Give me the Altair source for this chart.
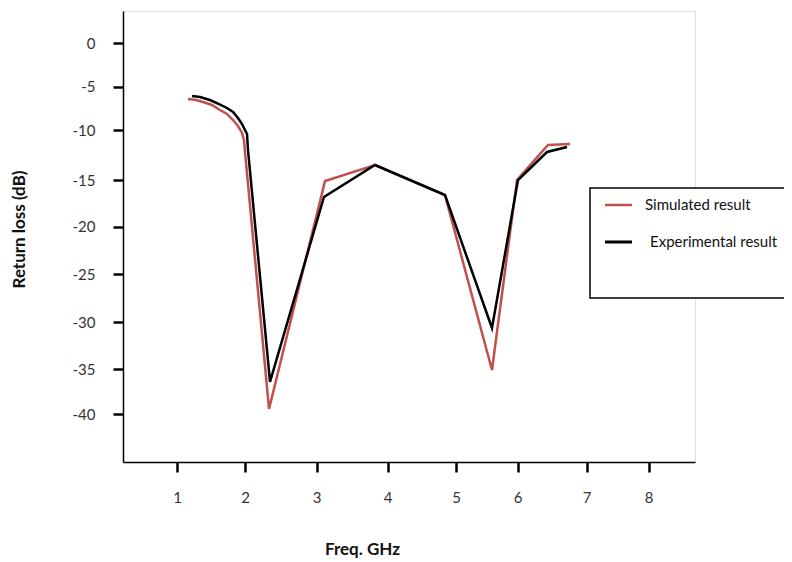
import altair as alt
import pandas as pd

# ---- data (in the units of its own hand-placed tick marks) ----
sim_freq = [1.162, 1.279, 1.382, 1.515, 1.632, 1.735, 1.824, 1.897, 1.956, 1.985, 2.0,
            2.336, 3.120, 3.824, 4.839, 5.585, 5.992, 6.442, 6.761]
sim_rl = [-6.42, -6.54, -6.77, -7.11, -7.69, -8.15, -8.85, -9.54, -10.30, -11.0, -12.2,
          -39.44, -15.11, -13.5, -16.61, -35.11, -15.0, -11.5, -11.4]

exp_freq = [1.221, 1.338, 1.485, 1.618, 1.735, 1.824, 1.897, 1.956, 2.0, 2.028, 2.042,
            2.350, 3.105, 3.824, 4.839, 5.585, 6.007, 6.428, 6.718]
exp_rl = [-6.07, -6.19, -6.54, -7.00, -7.46, -7.92, -8.61, -9.31, -10.0, -10.4, -12.0,
          -36.44, -16.82, -13.5, -16.61, -30.61, -15.0, -12.2, -11.7]

x_ticks = [1, 2, 3, 4, 5, 6, 7, 8]
y_ticks = [0, -5, -10, -15, -20, -25, -30, -35, -40]
series_names = ["Simulated result", "Experimental result"]
series_colors = ["#C0504D", "#000000"]

rows = []
for i, (f, r) in enumerate(zip(sim_freq, sim_rl)):
    rows.append({"freq": f, "rl": r, "series": series_names[0], "idx": i})
for i, (f, r) in enumerate(zip(exp_freq, exp_rl)):
    rows.append({"freq": f, "rl": r, "series": series_names[1], "idx": i})
df = pd.DataFrame(rows)

FONT = "Lato"

# the reference's tick marks are unevenly spaced: piecewise-linear scales
x_scale = alt.Scale(domain=[0.2, 1, 2, 3, 4, 5, 6, 7, 8, 8.75],
                    range=[0, 54, 122, 193.5, 264.5, 333, 394.5, 463.5, 525.5, 572],
                    nice=False, zero=False)
y_scale = alt.Scale(domain=[-45, -40, -35, -30, -25, -20, -15, -10, -5, 0, 3.5],
                    range=[451, 403, 358, 311.3, 263.3, 215.7, 169, 119, 75.7, 32, 0],
                    nice=False, zero=False)

lines = alt.Chart(df).mark_line(strokeWidth=2.5, clip=True).encode(
    x=alt.X("freq:Q", scale=x_scale,
            axis=alt.Axis(values=x_ticks, title="Freq. GHz", grid=False,
                          tickSize=10, tickWidth=2.5, tickColor="#000",
                          domainColor="#000", domainWidth=1.5,
                          labelFont=FONT, labelFontSize=15, labelColor="#333",
                          labelPadding=18, labelFlush=False,
                          labelExpr="'' + datum.value",
                          titleFont=FONT, titleFontSize=17, titleFontWeight="bold",
                          titleColor="#111", titleX=239, titleY=87,
                          titleAlign="center", titleBaseline="middle")),
    y=alt.Y("rl:Q", scale=y_scale,
            axis=alt.Axis(values=y_ticks, title="Return loss (dB)", grid=False,
                          tickSize=10, tickWidth=2.5, tickColor="#000",
                          domainColor="#000", domainWidth=1.5,
                          labelFont=FONT, labelFontSize=15, labelColor="#333",
                          labelPadding=18, labelFlush=False,
                          labelExpr="'' + datum.value",
                          titleFont=FONT, titleFontSize=17, titleFontWeight="bold",
                          titleColor="#111", titleAngle=270, titleX=-104, titleY=218,
                          titleAlign="center", titleBaseline="middle")),
    color=alt.Color("series:N", scale=alt.Scale(domain=series_names, range=series_colors),
                    legend=None),
    order="idx:Q",
    detail="series:N",
)

# ---- legend box as in the reference ----
leg_df = pd.DataFrame({"label": series_names, "color": series_colors})
box = alt.Chart(pd.DataFrame({"a": [0]})).mark_rect(
    fill="white", stroke="#000", strokeWidth=1.5
).encode(x=alt.value(467), x2=alt.value(720), y=alt.value(177), y2=alt.value(287))

leg_sim_line = alt.Chart(pd.DataFrame({"a": [0]})).mark_rule(
    color=series_colors[0], strokeWidth=2.5
).encode(x=alt.value(482), x2=alt.value(509), y=alt.value(194))
leg_exp_line = alt.Chart(pd.DataFrame({"a": [0]})).mark_rule(
    color=series_colors[1], strokeWidth=3
).encode(x=alt.value(482), x2=alt.value(509), y=alt.value(231))

leg_sim_text = alt.Chart(leg_df.iloc[[0]]).mark_text(
    align="left", baseline="middle", font=FONT, fontSize=15, color="#111"
).encode(x=alt.value(522), y=alt.value(194), text="label:N")
leg_exp_text = alt.Chart(leg_df.iloc[[1]]).mark_text(
    align="left", baseline="middle", font=FONT, fontSize=15, color="#111"
).encode(x=alt.value(527), y=alt.value(231), text="label:N")

chart = alt.layer(
    lines, box, leg_sim_line, leg_exp_line, leg_sim_text, leg_exp_text
).properties(
    width=572, height=451,
    autosize=alt.AutoSizeParams(type="none"),
    padding={"left": 115, "top": 3, "right": 89, "bottom": 97},
).configure_view(
    stroke="#000", strokeWidth=1.5
).configure(background="white")

chart.save("out.html", embed_options={"renderer": "svg", "actions": False})
